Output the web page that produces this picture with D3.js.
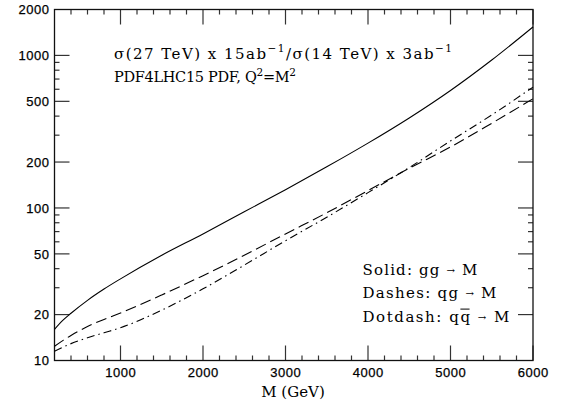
<!DOCTYPE html>
<html>
<head>
<meta charset="utf-8">
<script src="https://cdn.jsdelivr.net/npm/d3@7"></script>
<style>
  body { margin: 0; background: #fff; }
  svg { display: block; }
</style>
</head>
<body>
<div id="chart"></div>
<script>
// values (ratio vs M in GeV)
const mass   = [200, 300, 400, 600, 800, 1000, 1500, 2000, 2500, 3000, 3500, 4000, 4500, 5000, 5500, 6000];
const gg     = [16.0, 18.3, 20.4, 24.8, 29.4, 34.3, 49.0, 67.6, 94.4, 131.8, 186, 266, 389, 589, 933, 1538];
const qg     = [12.4, 13.5, 14.6, 16.7, 18.6, 20.5, 26.9, 36.0, 49.0, 67.6, 93, 130, 182, 251, 359, 520];
const qqbar  = [11.5, 12.2, 12.9, 14.1, 15.2, 16.4, 21.4, 29.5, 42.2, 61.0, 87, 126, 184, 275, 407, 620];

const xMajor = [1000, 2000, 3000, 4000, 5000, 6000];
const xMinor = [400, 600, 800, 1200, 1400, 1600, 1800, 2200, 2400, 2600, 2800, 3200, 3400, 3600, 3800,
                4200, 4400, 4600, 4800, 5200, 5400, 5600, 5800];
const yLabels = [10, 20, 50, 100, 200, 500, 1000, 2000];
const yMinor = [30, 40, 60, 70, 80, 90, 300, 400, 600, 700, 800, 900];

const legendText = [["Solid: gg ", "M"], ["Dashes: qg ", "M"], ["Dotdash: qq ", "M"]];

const width = 564, height = 408;
const margin = {top: 9.5, right: 31, bottom: 47.5, left: 54.5};

const svg = d3.select("#chart").append("svg")
  .attr("width", width)
  .attr("height", height);

const x = d3.scaleLinear().domain([200, 6000]).range([margin.left, width - margin.right]);
const y = d3.scaleLog().domain([10, 2000]).range([height - margin.bottom, margin.top]);

const x0 = x.range()[0], x1 = x.range()[1];
const yb = y.range()[0], yt = y.range()[1];

const ticks = svg.append("g").attr("stroke", "#333").attr("stroke-width", 1.2);

// x ticks, bottom and top
function xTick(v, len) {
  ticks.append("line").attr("x1", x(v)).attr("x2", x(v)).attr("y1", yb).attr("y2", yb - len);
  ticks.append("line").attr("x1", x(v)).attr("x2", x(v)).attr("y1", yt).attr("y2", yt + len);
}
xMajor.forEach(v => xTick(v, 15));
xMinor.forEach(v => xTick(v, 5));

// y ticks, left and right
function yTick(v, len) {
  ticks.append("line").attr("x1", x0).attr("x2", x0 + len).attr("y1", y(v)).attr("y2", y(v));
  ticks.append("line").attr("x1", x1).attr("x2", x1 - len).attr("y1", y(v)).attr("y2", y(v));
}
yLabels.filter(v => v > 10 && v < 2000).forEach(v => yTick(v, 15));
yMinor.forEach(v => yTick(v, 5));

// frame
svg.append("rect")
  .attr("x", x0).attr("y", yt)
  .attr("width", x1 - x0).attr("height", yb - yt)
  .attr("fill", "none").attr("stroke", "#111").attr("stroke-width", 1.3);

// tick labels
const sans = "'Liberation Sans', Arial, sans-serif";
function numStyle(t) {
  t.attr("font-family", sans)
    .attr("font-size", "13px")
    .attr("letter-spacing", "0.5px")
    .attr("fill", "#000")
    .attr("stroke", "#000")
    .attr("stroke-width", 0.25);
}
svg.append("g").selectAll("text").data(xMajor).enter().append("text")
  .attr("x", d => x(d) + 0.3)
  .attr("y", 377)
  .attr("text-anchor", "middle")
  .call(numStyle)
  .text(d => d);

svg.append("g").selectAll("text").data(yLabels).enter().append("text")
  .attr("x", 49.5)
  .attr("y", d => y(d))
  .attr("dy", "0.36em")
  .attr("text-anchor", "end")
  .call(numStyle)
  .text(d => d);

// curves
const line = d3.line()
  .x(d => x(d[0]))
  .y(d => y(d[1]))
  .curve(d3.curveMonotoneX);

const series = [
  {vals: gg, dash: null},
  {vals: qg, dash: "11,5"},
  {vals: qqbar, dash: "8,4,1.5,4"}
];
series.forEach(s => {
  svg.append("path")
    .datum(mass.map((m, i) => [m, s.vals[i]]))
    .attr("d", line)
    .attr("fill", "none")
    .attr("stroke", "#000")
    .attr("stroke-width", 1.1)
    .attr("stroke-dasharray", s.dash);
});

// text
const serif = "'DejaVu Serif', serif";
function fit(t, target) {
  const node = t.node();
  const w = node.getComputedTextLength();
  const n = node.getNumberOfChars();
  t.attr("letter-spacing", ((target - w) / (n - 1)) + "px");
}
function serifText(xx, yy, size) {
  return svg.append("text")
    .attr("x", xx).attr("y", yy)
    .attr("font-family", serif)
    .attr("font-size", (size || 15) + "px")
    .attr("fill", "#000");
}

const t1 = serifText(114, 59);
t1.append("tspan").text("\u03c3(27 TeV) x 15ab");
t1.append("tspan").attr("dy", -7).attr("font-size", "10.5px").text("\u22121");
t1.append("tspan").attr("dy", 7).text("/\u03c3(14 TeV) x 3ab");
t1.append("tspan").attr("dy", -7).attr("font-size", "10.5px").text("\u22121");
fit(t1, 338);

const t2 = serifText(114, 82, 14.5);
t2.append("tspan").text("PDF4LHC15 PDF, Q");
t2.append("tspan").attr("dy", -6).attr("font-size", "10.5px").text("2");
t2.append("tspan").attr("dy", 6).text("=M");
t2.append("tspan").attr("dy", -6).attr("font-size", "10.5px").text("2");
fit(t2, 182);

// legend
const legendW = [115, 134, 147];
legendText.forEach((s, i) => {
  const by = 275 + i * 23.3;
  const t = serifText(362.5, by);
  t.append("tspan").text(s[0]);
  t.append("tspan").attr("font-size", "10px").attr("dy", -1).text("\u2192");
  t.append("tspan").attr("dy", 1).text(" " + s[1]);
  t.attr("xml:space", "preserve");
  fit(t, legendW[i]);
  if (i === 2) {
    const r = t.node().getExtentOfChar(s[0].length - 2);
    svg.append("line")
      .attr("x1", r.x).attr("x2", r.x + r.width - 2)
      .attr("y1", r.y + 1.5).attr("y2", r.y + 1.5)
      .attr("stroke", "#000").attr("stroke-width", 1);
  }
});

svg.append("text")
  .attr("x", 293).attr("y", 397)
  .attr("text-anchor", "middle")
  .attr("font-family", serif)
  .attr("font-size", "15px")
  .text("M (GeV)");
</script>
</body>
</html>
